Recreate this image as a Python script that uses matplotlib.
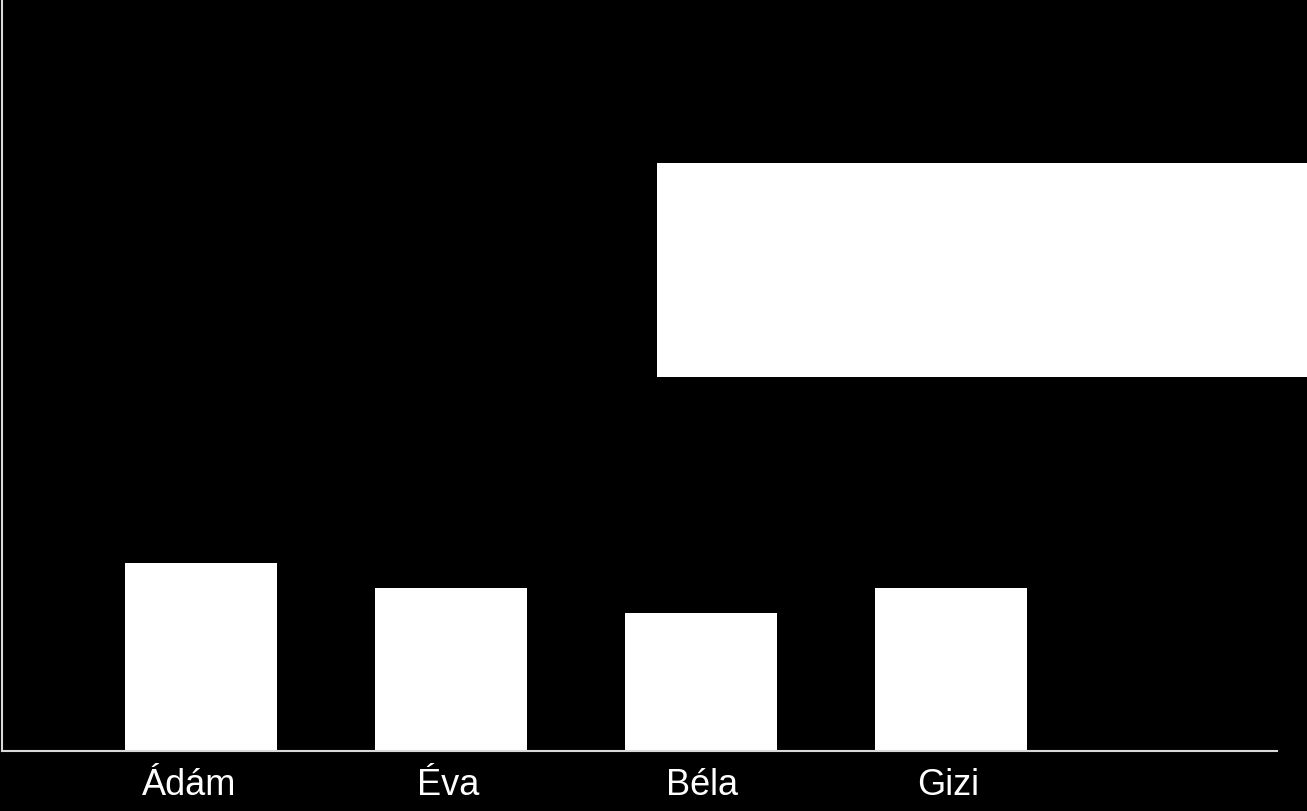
import matplotlib
matplotlib.use("Agg")
import matplotlib.pyplot as plt
import matplotlib.transforms as mtransforms
from matplotlib.patches import Rectangle

names = ["Ádám", "Éva", "Béla", "Gizi"]
values = [7.5, 6.5, 5.5, 6.5]

W, H = 1307, 812
fig = plt.figure(figsize=(W / 100, H / 100), dpi=100, facecolor="black")
ax = fig.add_axes([1.5 / W, (H - 751.5) / H, (1277 - 1.5) / W, 750 / H])
ax.set_facecolor("black")

x = list(range(len(names)))
ax.bar(x, values, width=0.608, color="white", edgecolor="none")
ax.set_xlim(-0.8, 4.304)
ax.set_ylim(0, 30)

ax.set_xticks(x, names)
ax.tick_params(axis="x", length=0, pad=12, labelsize=26, colors="white")
# labels are not quite centred under the bars in the original
label_shift_px = [-12, -3, 1, -3]
for lbl, dx in zip(ax.get_xticklabels(), label_shift_px):
    lbl.set_family("Liberation Sans")
    lbl.set_transform(lbl.get_transform() + mtransforms.ScaledTranslation(dx / 100, 0, fig.dpi_scale_trans))
ax.set_yticks([])
for side in ("top", "right"):
    ax.spines[side].set_visible(False)
for side in ("left", "bottom"):
    ax.spines[side].set_color("#d9d9d9")
    ax.spines[side].set_linewidth(1.5)

# empty white box on the right
fig.add_artist(Rectangle((657 / W, 1 - 378 / H), (W - 657) / W, (378 - 164) / H,
                         transform=fig.transFigure, facecolor="white", edgecolor="none"))

fig.savefig("out.png", dpi=100, facecolor="black")
